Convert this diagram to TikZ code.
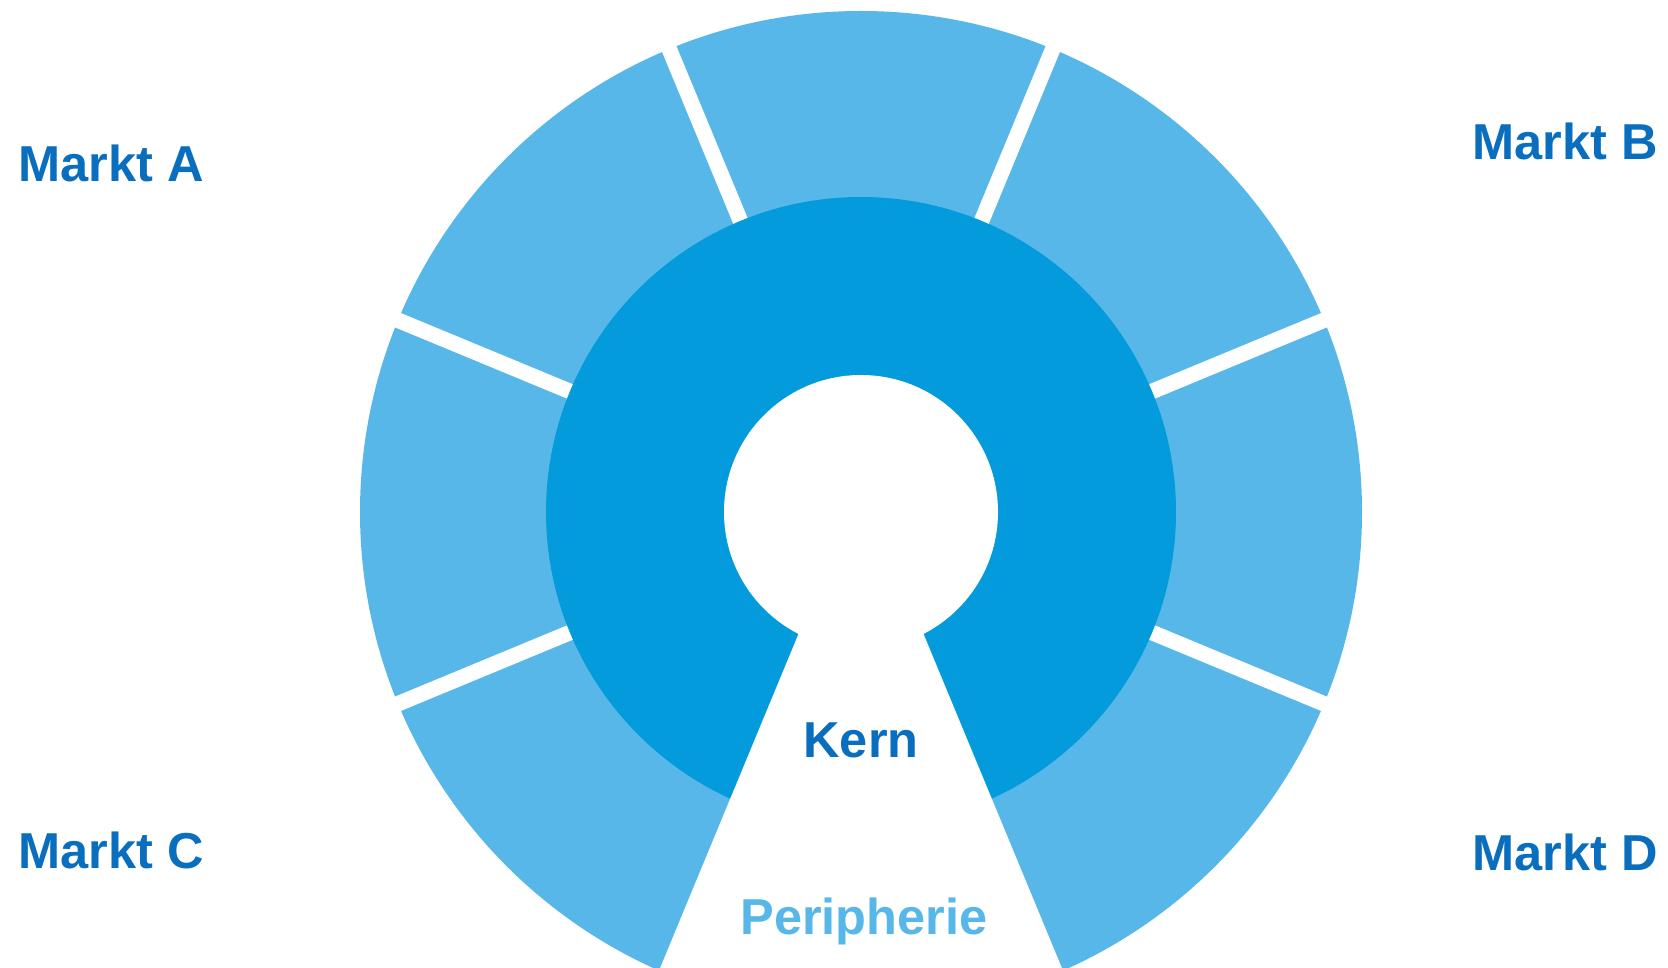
\documentclass[tikz,border=0pt]{standalone}
\usepackage{fontspec}
\setmainfont{Liberation Sans}
\definecolor{ringlight}{HTML}{57B7E9}
\definecolor{ringdark}{HTML}{039BDC}
\definecolor{txtdark}{HTML}{0A6EBF}
\tikzset{
  lbl/.style={inner sep=0pt, anchor=base, font=\bfseries\fontsize{50.5}{60}\selectfont, text=txtdark},
  lbllight/.style={lbl, text=ringlight},
  gapline/.style={draw=white, line width=15.5pt}
}
\begin{document}
\begin{tikzpicture}[x=1pt,y=1pt]
\useasboundingbox (0,0) rectangle (1668,967);
\coordinate (C) at (861,455);
\coordinate (apex) at (861,484);
\begin{scope}
\clip (0,0) rectangle (1668,967);
\fill[ringlight] (C) circle[radius=501pt];
\foreach \a in {22.5,67.5,112.5,157.5,202.5,337.5}
  \draw[gapline] (C) -- +(\a:530pt);
\fill[ringdark] (C) circle[radius=315pt];
\fill[white] (C) circle[radius=137pt];
\fill[white] (apex) -- +(247.5:700pt) -- +(292.5:700pt) -- cycle;
\end{scope}
\node[lbl] (ma) at (111,785) {Markt A};
\node[lbl] (mb) at (1565,807) {Markt B};
\node[lbl] (mc) at (111,99) {Markt C};
\node[lbl] (md) at (1565,97) {Markt D};
\node[lbl] (kern) at (861,209) {Kern};
\node[lbllight] (peri) at (864,33) {Peripherie};
\end{tikzpicture}
\end{document}
